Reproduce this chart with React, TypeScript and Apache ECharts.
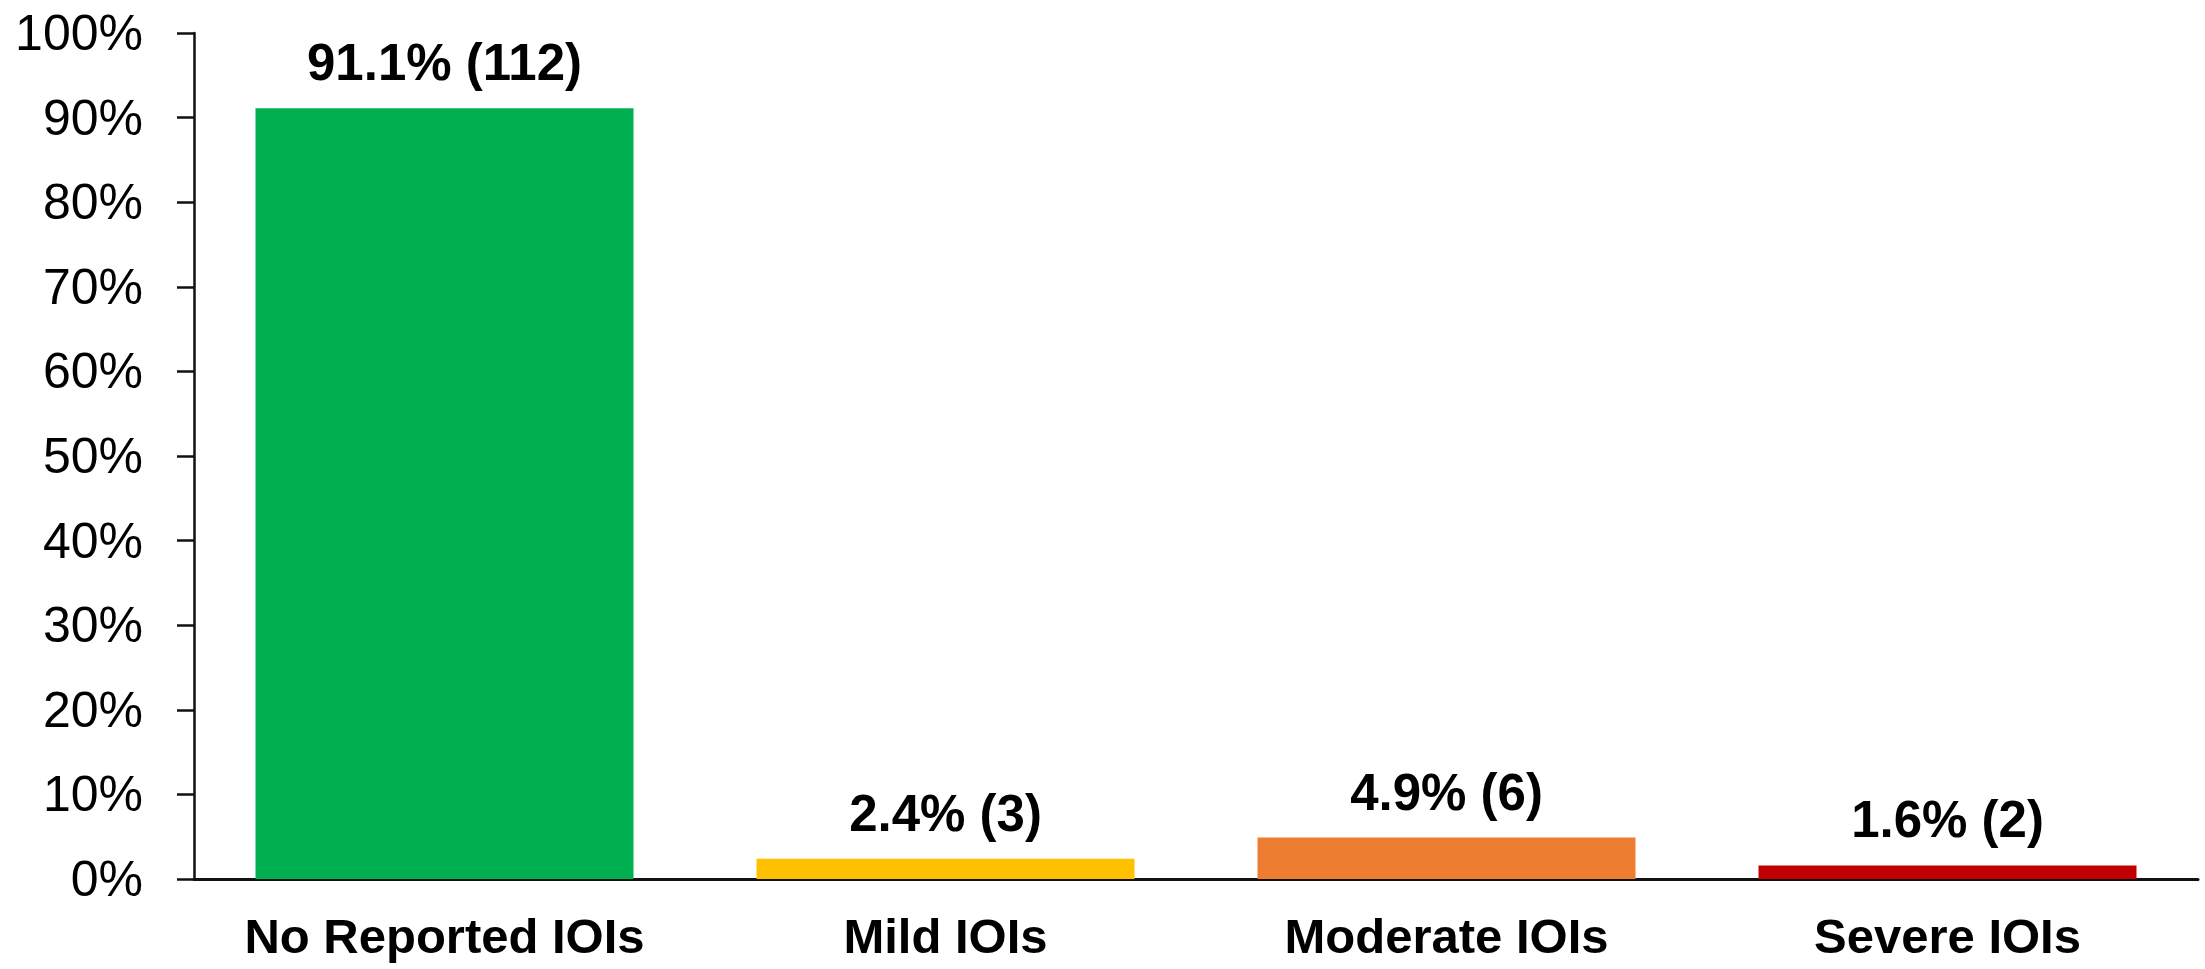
import React, { useEffect, useRef } from "react";
import * as echarts from "echarts";

const categories = ["No Reported IOIs", "Mild IOIs", "Moderate IOIs", "Severe IOIs"];
const percents = [91.1, 2.4, 4.9, 1.6];
const counts = [112, 3, 6, 2];
const barColors = ["#00B050", "#FFC000", "#ED7D31", "#C00000"];
const yTicks = { min: 0, max: 100, interval: 10 };

export default function App() {
  const ref = useRef<HTMLDivElement>(null);
  useEffect(() => {
    if (!ref.current) return;
    const chart = echarts.init(ref.current, null, { renderer: "svg" });
    const font = "'Liberation Sans', Arial, sans-serif";
    chart.setOption({
      animation: false,
      backgroundColor: "#ffffff",
      grid: { left: 194, right: 7, top: 33, bottom: 90, containLabel: false },
      xAxis: {
        type: "category",
        data: categories,
        axisLine: { show: true, lineStyle: { color: "#111", width: 3 } },
        axisTick: { show: false },
        axisLabel: {
          interval: 0,
          color: "#000",
          fontFamily: font,
          fontWeight: "bold",
          fontSize: 49,
          margin: 32,
        },
      },
      yAxis: {
        type: "value",
        min: yTicks.min,
        max: yTicks.max,
        interval: yTicks.interval,
        axisLine: { show: true, lineStyle: { color: "#111", width: 2.5 } },
        axisTick: { show: true, length: 17, lineStyle: { color: "#111", width: 2.5 } },
        splitLine: { show: false },
        axisLabel: {
          color: "#000",
          fontFamily: font,
          fontSize: 50,
          margin: 51,
          formatter: (v: number) => `${v}%`,
        },
      },
      series: [
        {
          type: "bar",
          barWidth: 378,
          data: percents.map((p, i) => ({
            value: p,
            itemStyle: { color: barColors[i] },
          })),
          label: {
            show: true,
            position: "top",
            distance: 20,
            color: "#000",
            fontFamily: font,
            fontWeight: "bold",
            fontSize: 51,
            formatter: (params: any) =>
              `${percents[params.dataIndex].toFixed(1)}% (${counts[params.dataIndex]})`,
          },
        },
      ],
    });
    return () => chart.dispose();
  }, []);
  return (
    <div
      ref={ref}
      style={{ position: "absolute", left: 0, top: 0, width: 2205, height: 969 }}
    />
  );
}
